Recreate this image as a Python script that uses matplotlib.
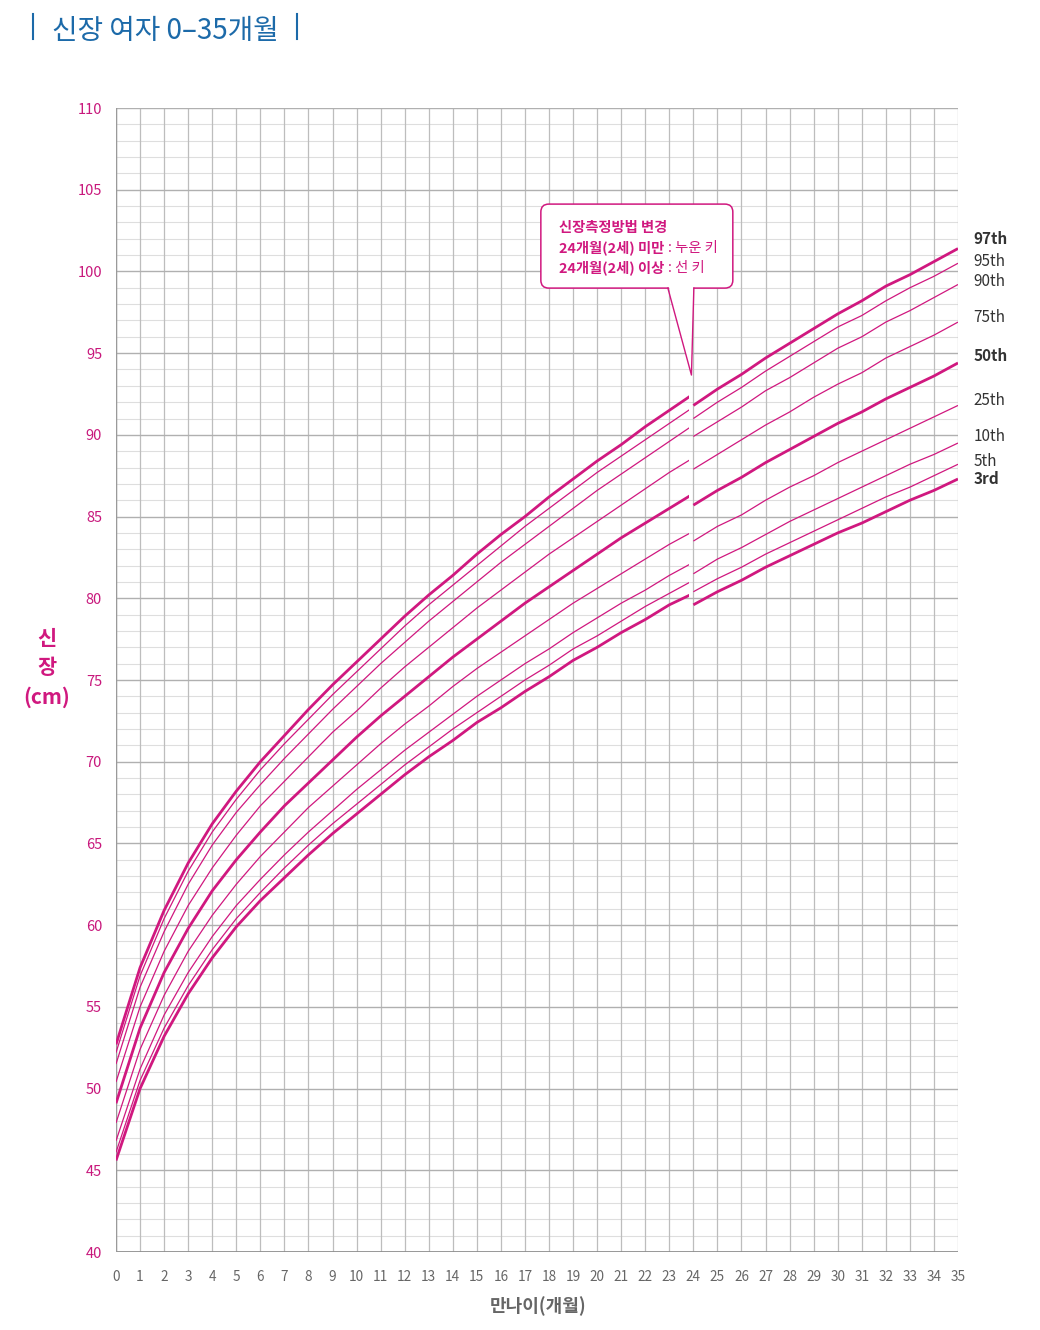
import matplotlib
matplotlib.use("Agg")
import matplotlib.pyplot as plt
from matplotlib.patches import FancyBboxPatch, Polygon, Rectangle
from matplotlib.lines import Line2D

plt.rcParams['font.family'] = ['Noto Sans CJK KR', 'DejaVu Sans']

# 여자 신장 백분위수 (0-24개월: 누운 키, 24-35개월: 선 키)
pct_names = ['3rd', '5th', '10th', '25th', '50th', '75th', '90th', '95th', '97th']
bold_pcts = ['3rd', '50th', '97th']

months_lying = list(range(0, 25))
lying = {
    '3rd':  [45.6, 50.0, 53.2, 55.8, 58.0, 59.9, 61.5, 62.9, 64.3, 65.6, 66.8, 68.0, 69.2,
             70.3, 71.3, 72.4, 73.3, 74.3, 75.2, 76.2, 77.0, 77.9, 78.7, 79.6, 80.3],
    '5th':  [46.1, 50.5, 53.7, 56.3, 58.5, 60.4, 62.0, 63.5, 64.9, 66.2, 67.4, 68.6, 69.8,
             70.9, 72.0, 73.0, 74.0, 75.0, 75.9, 76.9, 77.7, 78.6, 79.5, 80.3, 81.1],
    '10th': [46.8, 51.2, 54.5, 57.1, 59.3, 61.2, 62.8, 64.3, 65.7, 67.0, 68.3, 69.5, 70.7,
             71.8, 72.9, 74.0, 75.0, 76.0, 76.9, 77.9, 78.8, 79.7, 80.5, 81.4, 82.2],
    '25th': [47.9, 52.4, 55.7, 58.4, 60.6, 62.5, 64.2, 65.7, 67.2, 68.5, 69.8, 71.1, 72.3,
             73.4, 74.6, 75.7, 76.7, 77.7, 78.7, 79.7, 80.6, 81.5, 82.4, 83.3, 84.1],
    '50th': [49.1, 53.7, 57.1, 59.8, 62.1, 64.0, 65.7, 67.3, 68.7, 70.1, 71.5, 72.8, 74.0,
             75.2, 76.4, 77.5, 78.6, 79.7, 80.7, 81.7, 82.7, 83.7, 84.6, 85.5, 86.4],
    '75th': [50.4, 55.0, 58.4, 61.2, 63.5, 65.5, 67.3, 68.8, 70.3, 71.8, 73.1, 74.5, 75.8,
             77.0, 78.2, 79.4, 80.5, 81.6, 82.7, 83.7, 84.7, 85.7, 86.7, 87.7, 88.6],
    '90th': [51.5, 56.2, 59.6, 62.5, 64.9, 66.9, 68.6, 70.2, 71.7, 73.2, 74.6, 76.0, 77.3,
             78.6, 79.8, 81.0, 82.2, 83.3, 84.4, 85.5, 86.6, 87.6, 88.6, 89.6, 90.6],
    '95th': [52.2, 56.9, 60.4, 63.3, 65.7, 67.7, 69.5, 71.1, 72.6, 74.1, 75.5, 76.9, 78.3,
             79.6, 80.8, 82.0, 83.2, 84.4, 85.5, 86.6, 87.7, 88.7, 89.7, 90.7, 91.7],
    '97th': [52.7, 57.4, 60.9, 63.8, 66.2, 68.2, 70.0, 71.6, 73.2, 74.7, 76.1, 77.5, 78.9,
             80.2, 81.4, 82.7, 83.9, 85.0, 86.2, 87.3, 88.4, 89.4, 90.5, 91.5, 92.5],
}

months_standing = list(range(24, 36))
standing = {
    '3rd':  [79.6, 80.4, 81.1, 81.9, 82.6, 83.3, 84.0, 84.6, 85.3, 86.0, 86.6, 87.3],
    '5th':  [80.4, 81.2, 81.9, 82.7, 83.4, 84.1, 84.8, 85.5, 86.2, 86.8, 87.5, 88.2],
    '10th': [81.5, 82.4, 83.1, 83.9, 84.7, 85.4, 86.1, 86.8, 87.5, 88.2, 88.8, 89.5],
    '25th': [83.5, 84.4, 85.1, 86.0, 86.8, 87.5, 88.3, 89.0, 89.7, 90.4, 91.1, 91.8],
    '50th': [85.7, 86.6, 87.4, 88.3, 89.1, 89.9, 90.7, 91.4, 92.2, 92.9, 93.6, 94.4],
    '75th': [87.9, 88.8, 89.7, 90.6, 91.4, 92.3, 93.1, 93.8, 94.7, 95.4, 96.1, 96.9],
    '90th': [89.9, 90.8, 91.7, 92.7, 93.5, 94.4, 95.3, 96.0, 96.9, 97.6, 98.4, 99.2],
    '95th': [91.0, 92.0, 92.9, 93.9, 94.8, 95.7, 96.6, 97.3, 98.2, 99.0, 99.7, 100.5],
    '97th': [91.8, 92.8, 93.7, 94.7, 95.6, 96.5, 97.4, 98.2, 99.1, 99.8, 100.6, 101.4],
}

x_ticks = list(range(0, 36))
y_ticks = list(range(40, 111, 5))
label_y = {'97th': 102.0, '95th': 100.6, '90th': 99.4, '75th': 97.2, '50th': 94.8,
           '25th': 92.1, '10th': 89.9, '5th': 88.4, '3rd': 87.3}

MAG = '#d0187f'
BLUE = '#1c6aa9'
GRAY = '#666666'

fig = plt.figure(figsize=(10.4, 13.3), dpi=100)
ax = fig.add_axes([116 / 1040, 78 / 1330, 842 / 1040, 1144 / 1330])
ax.set_xlim(0, 35)
ax.set_ylim(40, 110)

# grid
for m in x_ticks:
    ax.axvline(m, color='#bdbdbd', lw=0.9, zorder=1)
for v in range(40, 111):
    if v % 5 == 0:
        ax.axhline(v, color='#b0b0b0', lw=1.0, zorder=1)
    else:
        ax.axhline(v, color='#dedede', lw=0.8, zorder=0.9)

for s in ax.spines.values():
    s.set_visible(False)
ax.axhline(40, color='#8a8a8a', lw=1.2, zorder=2)
ax.axvline(0, color='#9a9a9a', lw=1.0, zorder=2)

# curves
gap = Rectangle((0, 0), 23.8, 200, transform=ax.transData)
for p in pct_names:
    lw = 2.0 if p in bold_pcts else 0.9
    ln, = ax.plot(months_lying, lying[p], color=MAG, lw=lw, zorder=3,
                  solid_capstyle='butt')
    ln.set_clip_path(gap)
    ax.plot(months_standing, standing[p], color=MAG, lw=lw, zorder=3,
            solid_capstyle='butt')
    ax.text(35.65, label_y[p], p, fontsize=11, color='#333333',
            fontweight='bold' if p in bold_pcts else 'normal',
            va='center', ha='left', clip_on=False)

# ticks
ax.set_xticks(x_ticks)
ax.set_yticks(y_ticks)
ax.tick_params(axis='both', length=0)
ax.tick_params(axis='x', pad=13, labelsize=9.8, labelcolor=GRAY)
ax.tick_params(axis='y', pad=10, labelsize=10.5, labelcolor='#c8187c')

# callout
box = FancyBboxPatch((17.66, 98.98), 7.98, 5.14,
                     boxstyle='round,pad=0,rounding_size=0.33',
                     mutation_aspect=1.47, fc='white', ec=MAG, lw=1.1, zorder=5)
ax.add_patch(box)
ax.add_patch(Polygon([(22.94, 99.3), (24.0, 99.3), (23.92, 93.66)],
                     closed=True, fc='white', ec='none', zorder=6))
ax.plot([22.94, 23.92, 24.02], [98.98, 93.66, 98.98], color=MAG, lw=1.0, zorder=7)
ax.text(18.4, 102.65, '신장측정방법 변경', fontsize=10.3, fontweight='bold',
        color=MAG, va='center', zorder=8)
for yy, head, tail in [(101.43, '24개월(2세) 미만', ': 누운 키'),
                       (100.2, '24개월(2세) 이상', ': 선 키')]:
    t = ax.text(18.4, yy, head, fontsize=10.3, fontweight='bold',
                color=MAG, va='center', zorder=8)
    ax.annotate(tail, xy=(1, 0.5), xycoords=t, xytext=(3, 0),
                textcoords='offset points', fontsize=10.3, color=MAG,
                va='center', ha='left', zorder=8)

# axis labels
fig.text(47 / 1040, 1 - 668 / 1330, '신\n장\n(cm)', fontsize=15, fontweight='bold',
         color=MAG, ha='center', va='center', linespacing=1.45)
fig.text(538 / 1040, 1 - 1306 / 1330, '만나이(개월)', fontsize=13, fontweight='bold',
         color=GRAY, ha='center', va='center')

# title
fig.text(52 / 1040, 1 - 31 / 1330, '신장 여자 0–35개월', fontsize=20, color=BLUE,
         ha='left', va='center', fontweight='medium')
for px in (33, 297):
    fig.add_artist(Line2D([px / 1040, px / 1040], [1 - 14 / 1330, 1 - 39 / 1330],
                          color=BLUE, lw=1.5))

fig.savefig('out.png', dpi=100)
